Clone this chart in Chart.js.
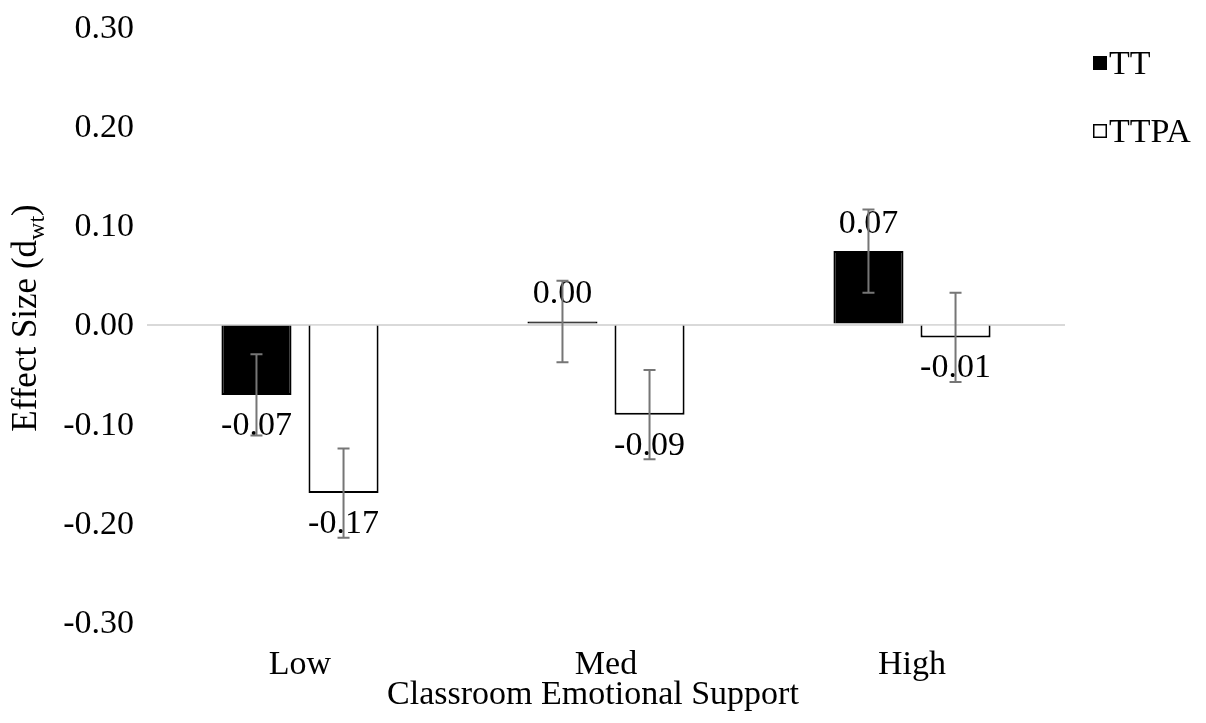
<!DOCTYPE html>
<html><head><meta charset="utf-8">
<script src="https://cdn.jsdelivr.net/npm/chart.js@4.4.1/dist/chart.umd.min.js"></script>
<style>html,body{margin:0;padding:0;background:#fff;} #wrap{width:1206px;height:723px;}</style>
</head><body><div id="wrap"><canvas id="c" width="1206" height="723" style="width:1206px;height:723px"></canvas></div>
<script>
// ---- data ----
const categories = ['Low', 'Med', 'High'];
const seriesNames = ['TT', 'TTPA'];
const ttValues = [-0.071, 0.003, 0.074];
const ttpaValues = [-0.170, -0.091, -0.013];
const ttErrors = [0.041, 0.041, 0.042];
const ttpaErrors = [0.045, 0.045, 0.045];
const yMin = -0.3, yMax = 0.3, yStep = 0.1;
const yTitleMain = 'Effect Size (d';
const yTitleSub = 'wt';
const yTitleEnd = ')';
const xTitle = 'Classroom Emotional Support';

const FONT = "'Liberation Serif', 'Times New Roman', serif";
const FS = 34;
const fmt = v => (Math.round(v * 100) / 100).toFixed(2);

const overlay = {
  id: 'overlay',
  afterDraw(chart) {
    const ctx = chart.ctx, ys = chart.scales.y, area = chart.chartArea;
    ctx.save();
    // value labels
    ctx.font = FS + 'px ' + FONT;
    ctx.fillStyle = '#000';
    ctx.textAlign = 'center';
    ctx.textBaseline = 'middle';
    chart.data.datasets.forEach((ds, di) => {
      chart.getDatasetMeta(di).data.forEach((bar, i) => {
        const v = ds.data[i];
        const y = v >= 0 ? bar.y - 27 : bar.y + 31;
        ctx.fillText(fmt(v), bar.x, y);
      });
    });
    // error bars
    ctx.strokeStyle = '#767676';
    ctx.lineWidth = 2;
    chart.data.datasets.forEach((ds, di) => {
      chart.getDatasetMeta(di).data.forEach((bar, i) => {
        const v = ds.data[i], e = ds.errors[i];
        const yT = ys.getPixelForValue(v + e), yB = ys.getPixelForValue(v - e);
        const x = bar.x, c = 6;
        ctx.beginPath();
        ctx.moveTo(x, yT); ctx.lineTo(x, yB);
        ctx.moveTo(x - c, yT); ctx.lineTo(x + c, yT);
        ctx.moveTo(x - c, yB); ctx.lineTo(x + c, yB);
        ctx.stroke();
      });
    });
    // legend
    const lx = area.right + 28;
    const rows = [63, 131];
    ctx.textAlign = 'left';
    chart.data.datasets.forEach((ds, di) => {
      const cy = rows[di];
      if (ds.backgroundColor === '#000000') {
        ctx.fillStyle = '#000';
        ctx.fillRect(lx, cy - 7, 14, 14);
      } else {
        ctx.fillStyle = '#fff';
        ctx.fillRect(lx, cy - 7, 14, 14);
        ctx.strokeStyle = '#000';
        ctx.lineWidth = 1.5;
        ctx.strokeRect(lx + 0.75, cy - 6.25, 12.5, 12.5);
      }
      ctx.fillStyle = '#000';
      ctx.font = FS + 'px ' + FONT;
      ctx.textBaseline = 'middle';
      ctx.fillText(ds.label, lx + 16, cy + 2);
    });
    // x axis title
    ctx.textAlign = 'center';
    ctx.textBaseline = 'middle';
    ctx.font = FS + 'px ' + FONT;
    ctx.fillText(xTitle, 593, 695);
    // y axis title with subscript
    ctx.translate(36, 318);
    ctx.rotate(-Math.PI / 2);
    ctx.textBaseline = 'alphabetic';
    ctx.textAlign = 'left';
    ctx.font = '35px ' + FONT;
    const w1 = ctx.measureText(yTitleMain).width;
    const w3 = ctx.measureText(yTitleEnd).width;
    ctx.font = '24px ' + FONT;
    const w2 = ctx.measureText(yTitleSub).width;
    let x0 = -(w1 + w2 + w3) / 2;
    ctx.fillStyle = '#000';
    ctx.font = '35px ' + FONT;
    ctx.fillText(yTitleMain, x0, 0);
    ctx.font = '24px ' + FONT;
    ctx.fillText(yTitleSub, x0 + w1, 8);
    ctx.font = '35px ' + FONT;
    ctx.fillText(yTitleEnd, x0 + w1 + w2, 0);
    ctx.restore();
  }
};

new Chart(document.getElementById('c'), {
  type: 'bar',
  data: {
    labels: categories,
    datasets: [
      { label: seriesNames[0], data: ttValues, errors: ttErrors,
        backgroundColor: '#000000', borderColor: '#000000', borderWidth: 2,
        categoryPercentage: 0.569, barPercentage: 0.805 },
      { label: seriesNames[1], data: ttpaValues, errors: ttpaErrors,
        backgroundColor: '#ffffff', borderColor: '#000000', borderWidth: 2,
        categoryPercentage: 0.569, barPercentage: 0.805 }
    ]
  },
  options: {
    responsive: false,
    animation: false,
    devicePixelRatio: 1,
    layout: { padding: { top: 27, right: 141, left: 0, bottom: 0 } },
    plugins: { legend: { display: false }, tooltip: { enabled: false } },
    scales: {
      x: {
        grid: { display: false, drawTicks: false },
        border: { display: false },
        ticks: { color: '#000', font: { family: FONT, size: FS }, padding: 23 },
        title: { display: false, text: xTitle },
        afterFit(s) { s.height = 101; s.paddingLeft = 0; s.paddingRight = 0; }
      },
      y: {
        min: yMin, max: yMax, z: 1,
        ticks: { stepSize: yStep, color: '#000', font: { family: FONT, size: FS }, padding: 13, labelOffset: 2, callback: v => fmt(v) },
        grid: { drawTicks: false, lineWidth: 2,
          color: c => (Math.abs(c.tick.value) < 1e-9 ? '#d9d9d9' : 'rgba(0,0,0,0)') },
        border: { display: false },
        afterFit(s) { s.width = 147; s.paddingTop = 0; s.paddingBottom = 0; }
      }
    }
  },
  plugins: [overlay]
});
</script>
</body></html>
